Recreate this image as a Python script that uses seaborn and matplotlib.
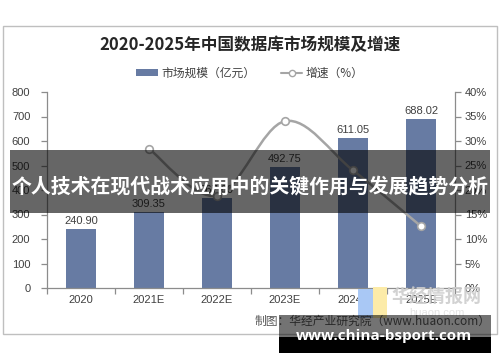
import numpy as np
import pandas as pd
import matplotlib
matplotlib.use("Agg")
import matplotlib.pyplot as plt
import seaborn as sns
from matplotlib.patches import Rectangle, Patch, PathPatch
from matplotlib.lines import Line2D
from matplotlib.path import Path

# ---- data ----
categories = ["2020", "2021E", "2022E", "2023E", "2024E", "2025E"]
market_size = [240.90, 309.35, 367.60, 492.75, 611.05, 688.02]
bar_labels = ["240.90", "309.35", "367.60", "492.75", "611.05", "688.02"]
growth_cats = ["2021E", "2022E", "2023E", "2024E", "2025E"]
growth = [28.41, 18.83, 34.05, 24.01, 12.60]
title = "2020-2025年中国数据库市场规模及增速"
legend_labels = ["市场规模（亿元）", "增速（%）"]
left_ticks = [0, 100, 200, 300, 400, 500, 600, 700, 800]
right_ticks = [0, 5, 10, 15, 20, 25, 30, 35, 40]
banner_text = "个人技术在现代战术应用中的关键作用与发展趋势分析"
source_text = "制图：华经产业研究院（www.huaon.com）"
site_text = "www.china-bsport.com"
watermark_text = "华经情报网"

sns.set_theme(style="white")
plt.rcParams['font.family'] = ['Liberation Sans', 'Noto Sans CJK SC', 'DejaVu Sans']

W, H = 500, 362
fig = plt.figure(figsize=(W / 100, H / 100), dpi=100)
fig.patch.set_facecolor("white")

def fx(px):
    return px / W

def fy(py):
    return 1 - py / H

ax = fig.add_axes([fx(47), fy(288), fx(455) - fx(47), fy(92) - fy(288)])
bar_color = "#677BA3"
df = pd.DataFrame({"cat": categories, "val": market_size})
sns.barplot(data=df, x="cat", y="val", color=bar_color, width=0.44, ax=ax,
            saturation=1, edgecolor="none")
ax.set_ylim(0, 800)
ax.set_xlim(-0.5, len(categories) - 0.5)
ax.set_yticks(left_ticks)
ax.set_xlabel("")
ax.set_ylabel("")
tick_c = "#404040"
spine_c = "#8C8C8C"
for s in ["top", "right"]:
    ax.spines[s].set_visible(False)
for s in ["left", "bottom"]:
    ax.spines[s].set_color(spine_c)
    ax.spines[s].set_linewidth(0.9)
ax.tick_params(axis="y", which="major", left=True, length=4, width=0.9, color=spine_c,
               labelsize=8, labelcolor=tick_c, pad=8)
ax.tick_params(axis="x", which="major", bottom=False, length=0, labelsize=8,
               labelcolor=tick_c, pad=5)
ax.set_xticks(np.arange(-0.5, len(categories)), minor=True)
ax.tick_params(axis="x", which="minor", bottom=True, length=4, width=0.9, color=spine_c)
for i, (v, lab) in enumerate(zip(market_size, bar_labels)):
    ax.text(i, v + 12, lab, ha="center", va="bottom", fontsize=8, color=tick_c)

# growth line on secondary axis
ax2 = ax.twinx()
ax2.set_ylim(0, 40)
ax2.set_yticks(right_ticks)
ax2.set_yticklabels([f"{t}%" for t in right_ticks])
for s in ["top", "left", "bottom"]:
    ax2.spines[s].set_visible(False)
ax2.spines["right"].set_color(spine_c)
ax2.spines["right"].set_linewidth(0.9)
ax2.tick_params(axis="y", right=True, length=4, width=0.9, color=spine_c,
                labelsize=8, labelcolor=tick_c, pad=3)
ax2.grid(False)
ax.grid(False)

gx = np.array([categories.index(c) for c in growth_cats], dtype=float)
gy = np.array(growth, dtype=float)
# smooth (Excel-like) curve via cubic Bezier segments through the points
P = np.column_stack([gx, gy])
verts = [tuple(P[0])]
codes = [Path.MOVETO]
n = len(P)
for i in range(n - 1):
    p0 = P[i - 1] if i > 0 else P[i]
    p1 = P[i]
    p2 = P[i + 1]
    p3 = P[i + 2] if i + 2 < n else P[i + 1]
    c1 = p1 + (p2 - p0) / 6
    c2 = p2 - (p3 - p1) / 6
    verts += [tuple(c1), tuple(c2), tuple(p2)]
    codes += [Path.CURVE4] * 3
line_c = "#A5A5A5"
ax2.add_patch(PathPatch(Path(verts, codes), facecolor="none", edgecolor=line_c, lw=1.8, zorder=3))
gdf = pd.DataFrame({"x": gx, "y": gy})
sns.scatterplot(data=gdf, x="x", y="y", ax=ax2, s=30, color="white", edgecolor=line_c,
                linewidth=1.2, zorder=4, legend=False)
ax2.set_xlabel("")
ax2.set_ylabel("")
ax2.set_xlim(-0.5, len(categories) - 0.5)

# title & legend
fig.text(0.5, fy(45), title, ha="center", va="center", fontsize=12, fontweight="bold",
         color="#262626", family=['Noto Sans CJK SC', 'DejaVu Sans'])
handles = [Patch(facecolor=bar_color, edgecolor="none"),
           Line2D([0], [0], color=line_c, lw=1.5, marker="o", markersize=4.5,
                  markerfacecolor="white", markeredgecolor=line_c)]
leg = fig.legend(handles, legend_labels, loc="center", bbox_to_anchor=(0.5, fy(73)), ncol=2,
                 frameon=False, handlelength=1.8, handleheight=0.5,
                 columnspacing=2.2, handletextpad=0.3, prop={'family': ['Noto Sans CJK SC'], 'size': 8.5})
for t in leg.get_texts():
    t.set_color(tick_c)

# frame border
fig.add_artist(Rectangle((fx(3), fy(334)), fx(497) - fx(3), fy(26) - fy(334),
                         transform=fig.transFigure, facecolor="none", edgecolor="#BFBFBF",
                         lw=1.0, zorder=1))

# watermark
fig.add_artist(Rectangle((fx(358), fy(318)), fx(15), fy(289) - fy(318), transform=fig.transFigure,
                         facecolor="#A9C8F5", edgecolor="none", zorder=5))
fig.add_artist(Rectangle((fx(373), fy(318)), fx(14), fy(287) - fy(318), transform=fig.transFigure,
                         facecolor="#FCEBA8", edgecolor="none", zorder=5))
fig.text(fx(437), fy(297), watermark_text, ha="center", va="center", fontsize=13,
         fontweight="bold", color="#CDCDCD", alpha=0.9, zorder=6,
         family=['Noto Sans CJK SC'])
fig.text(fx(437), fy(313), "huaon.com", ha="center", va="center", fontsize=8,
         color="#E3E3E3", zorder=6)

# source text
fig.text(fx(491), fy(321), source_text, ha="right", va="center", fontsize=8.5,
         color="#595959", zorder=6, family=['Noto Sans CJK SC', 'DejaVu Sans'])

# overlay banner
fig.add_artist(Rectangle((fx(10), fy(213)), fx(490) - fx(10), fy(150) - fy(213),
                         transform=fig.transFigure, facecolor="black", alpha=0.6,
                         edgecolor="none", zorder=10))
fig.text(0.5, fy(186), banner_text, ha="center", va="center", fontsize=14.3,
         fontweight="bold", color="white", zorder=11, family=['Noto Sans CJK SC'])

# bottom site banner
fig.add_artist(Rectangle((fx(279), fy(337)), fx(491) - fx(279), fy(315) - fy(337),
                         transform=fig.transFigure, facecolor="black", alpha=0.55,
                         edgecolor="none", zorder=10))
fig.add_artist(Rectangle((fx(279), fy(353)), fx(491) - fx(279), fy(337) - fy(353),
                         transform=fig.transFigure, facecolor="black",
                         edgecolor="none", zorder=10))
fig.text(fx(384), fy(336), site_text, ha="center", va="center", fontsize=11,
         fontweight="bold", color="white", zorder=11, family=['Open Sans', 'DejaVu Sans'])

fig.savefig("out.png", dpi=100, facecolor="white")
